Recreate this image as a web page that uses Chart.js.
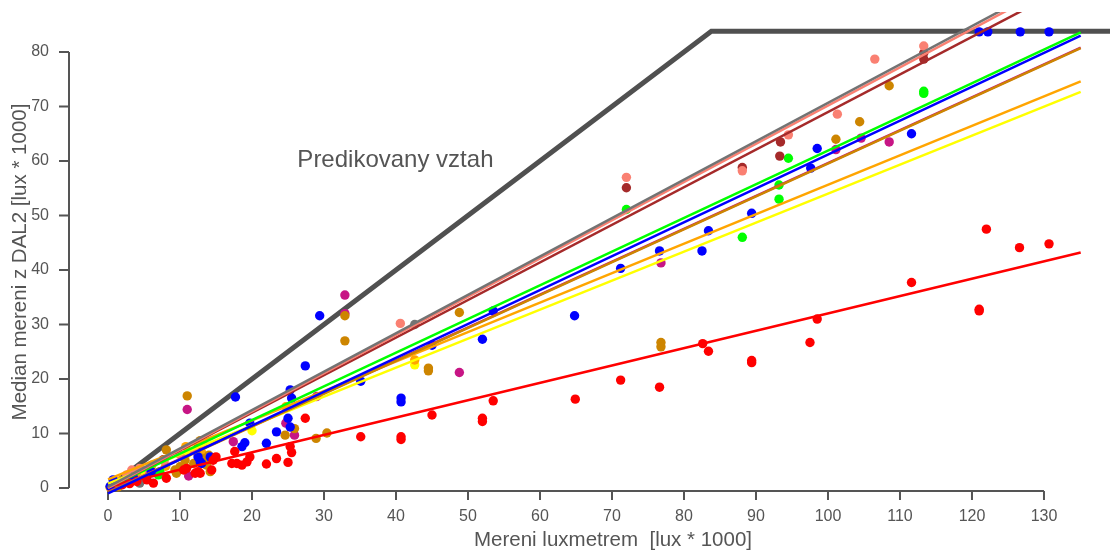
<!DOCTYPE html>
<html><head><meta charset="utf-8">
<script src="https://cdn.jsdelivr.net/npm/chart.js@4/dist/chart.umd.min.js"></script>
<style>html,body{margin:0;padding:0;background:#fff}#wrap{width:1110px;height:550px}</style>
</head><body><div id="wrap"><canvas id="c" width="1110" height="550"></canvas></div>
<script>
// ---- data ----
const xTicks = [0,10,20,30,40,50,60,70,80,90,100,110,120,130];
const yTicks = [0,10,20,30,40,50,60,70,80];
const xTitle = 'Mereni luxmetrem  [lux * 1000]';
const yTitle = 'Median mereni z DAL2 [lux * 1000]';
const noteText = 'Predikovany vztah';
const notePos = [26.3, 60.2];

const predX = [0, 83.8, 145];
const predY = [0, 83.8, 83.8];

const fitSeries = ['gray','salmon','brown','green','blue','peru','violet','orange','yellow','red'];
const fitX = [0, 135.1];
const fitStartY = [0.2, 0.0, 0.0, 0.1, -1.0, -0.8, -0.7, 1.6, 0.8, 0.2];
const fitEndY   = [95.4, 94.8, 93.2, 83.6, 83.0, 80.7, 80.8, 74.6, 72.7, 43.2];

const bluePts = [[121.0,83.7],[122.2,83.7],[126.7,83.7],[130.7,83.7],[111.6,65.0],[98.5,62.3],[97.6,58.7],
 [71.2,40.3],[76.6,43.5],[82.5,43.5],[83.4,47.2],[89.4,50.4],[29.4,31.6],[27.4,22.4],[35.1,19.6],[40.7,15.8],
 [40.7,16.5],[45.0,26.2],[52.0,27.3],[53.5,32.5],[64.8,31.6],[17.7,16.7],[25.3,18.0],[25.5,16.5],[19.7,11.9],
 [23.4,10.3],[22.0,8.2],[19.0,8.3],[18.6,7.6],[25.0,12.8],[25.3,11.2],[12.5,5.7],[13.0,4.5],[0.7,1.5],[12.8,4.8],
 [14.2,5.7],[2.0,1.2],[0.3,0.3],[3.5,2.0],[6.0,3.0]];
const redPts = [[82.6,26.5],[83.4,25.1],[89.4,23.0],[89.4,23.4],[97.5,26.7],[98.5,31.0],[111.6,37.7],[121.0,32.5],
 [121.0,32.8],[122.0,47.5],[126.6,44.1],[130.7,44.8],[71.2,19.8],[76.6,18.5],[64.9,16.3],[53.5,16.0],[52.0,12.8],
 [52.0,12.2],[45.0,13.4],[40.7,9.4],[40.7,8.9],[35.1,9.4],[27.4,12.8],[25.3,7.6],[25.5,6.5],[25.0,4.7],[23.4,5.4],
 [22.0,4.4],[19.7,5.7],[19.3,4.8],[18.6,4.2],[17.9,4.5],[17.6,6.7],[17.2,4.5],[15.0,5.7],[14.4,3.3],[12.8,2.7],
 [12.1,2.7],[10.9,3.6],[10.5,3.3],[8.1,1.8],[5.4,1.5],[12.5,3.0],[14.6,5.1],[6.3,0.9],[4.0,1.2],[2.0,0.6],[3.0,0.8]];
const greenPts = [[72.0,51.1],[88.1,46.0],[93.2,55.6],[93.2,53.0],[94.5,60.5],[113.3,72.4],[113.3,72.8],
 [7.2,3.0],[7.0,2.4],[0.5,0.4],[1.0,0.8],[3.0,2.0]];
const peruPts = [[108.5,73.8],[104.4,67.2],[101.1,64.0],[48.8,32.2],[32.9,31.6],[32.9,27.0],[44.5,22.0],[44.5,21.5],
 [76.8,26.7],[76.8,25.9],[28.9,9.1],[30.4,10.1],[11.0,16.9],[24.6,9.7],[25.9,10.9],[8.1,7.0],[9.3,3.3],[10.0,3.9],
 [10.7,5.1],[11.9,4.5],[9.5,2.7],[13.2,5.4],[13.7,4.2],[14.2,3.0],[1.4,0.2],[12.8,8.7],[14.0,6.0]];
const orangePts = [[0.3,0.1],[1.7,1.3],[6.1,4.2],[10.8,7.6],[24.7,14.9],[42.6,23.5],[13.0,6.5],[8.0,4.0],[4.0,2.8]];
const yellowPts = [[42.6,22.6],[0.5,0.5],[11.0,6.3],[5.0,3.0],[20.0,10.5]];
const violetPts = [[32.9,35.4],[32.9,32.0],[48.8,21.2],[29.0,16.8],[11.0,14.4],[24.7,11.9],[25.9,9.7],[11.2,2.2],
 [17.4,8.5],[76.8,41.3],[101.1,62.1],[104.6,64.2],[108.5,63.5]];
const salmonPts = [[113.3,81.1],[106.5,78.7],[101.3,68.6],[94.5,64.8],[72.0,57.0],[88.1,58.2],[40.6,30.2],[3.3,3.3],
 [4.4,3.6],[5.8,3.0],[10.0,6.1],[13.2,8.2],[2.6,2.4],[7.8,5.0],[12.0,6.8]];
const brownPts = [[113.3,79.8],[113.3,78.7],[93.4,63.5],[93.3,60.9],[72.0,55.1],[88.1,58.8],[7.7,5.2],[12.5,7.4],[3.0,2.3]];
const grayPts = [[42.6,30.0],[4.4,0.9],[1.5,1.0],[0.3,0.2]];

// ---- styles ----
const colorOf = {gray:'#737373', salmon:'#fa8072', brown:'#a52a2a', green:'#00ff00', blue:'#0000ff',
  violet:'#c71585', peru:'#cd8500', orange:'#ffa500', yellow:'#ffff00', red:'#ff0000'};
const pointGroups = [['red',redPts],['blue',bluePts],['peru',peruPts],['violet',violetPts],['salmon',salmonPts],
  ['brown',brownPts],['green',greenPts],['orange',orangePts],['yellow',yellowPts],['gray',grayPts]];

const AX = '#555555';
const FONT = '"Liberation Sans", Arial, sans-serif';

const datasets = [];
fitSeries.forEach((name, i) => {
  datasets.push({type:'line', data: fitX.map((x,k)=>({x, y: k===0 ? fitStartY[i] : fitEndY[i]})),
    borderColor: colorOf[name], borderWidth: 2.5, pointRadius: 0, fill:false, order: 10 + i,
    clip: {left: 5, top: 0, right: 0, bottom: 10}});
});
pointGroups.forEach(([name, pts], i) => {
  datasets.push({type:'scatter', data: pts.map(p=>({x:p[0], y:p[1]})), backgroundColor: colorOf[name],
    borderWidth: 0, pointRadius: 4.7, pointHoverRadius: 4.7, order: 50 + i, clip: false});
});
datasets.push({type:'line', data: predX.map((x,k)=>({x, y: predY[k]})), borderColor:'#505050', borderWidth: 5,
  pointRadius: 0, fill:false, order: 200, clip: {left:5, top:0, right:0, bottom:10}});

const axesPlugin = {
  id: 'rAxes',
  beforeDatasetsDraw(chart) {
    const ctx = chart.ctx, xs = chart.scales.x, ys = chart.scales.y, ca = chart.chartArea;
    ctx.save();
    ctx.strokeStyle = AX; ctx.fillStyle = AX; ctx.lineWidth = 2;
    const by = ca.bottom, lx = ca.left;
    ctx.beginPath();
    ctx.moveTo(xs.getPixelForValue(xTicks[0]), by); ctx.lineTo(xs.getPixelForValue(xTicks[xTicks.length-1]), by);
    xTicks.forEach(t => { const p = xs.getPixelForValue(t); ctx.moveTo(p, by); ctx.lineTo(p, by + 9); });
    ctx.stroke();
    ctx.beginPath();
    ctx.moveTo(lx, ys.getPixelForValue(yTicks[0])); ctx.lineTo(lx, ys.getPixelForValue(yTicks[yTicks.length-1]));
    yTicks.forEach(t => { const p = ys.getPixelForValue(t); ctx.moveTo(lx - 10, p); ctx.lineTo(lx, p); });
    ctx.stroke();
    ctx.font = '16px ' + FONT;
    ctx.textAlign = 'center'; ctx.textBaseline = 'middle';
    xTicks.forEach(t => ctx.fillText(String(t), xs.getPixelForValue(t), by + 26));
    ctx.textAlign = 'right';
    yTicks.forEach(t => ctx.fillText(String(t), lx - 20, ys.getPixelForValue(t)));
    ctx.font = '20.5px ' + FONT;
    ctx.textAlign = 'center';
    ctx.fillText(xTitle, 613, 540);
    ctx.save(); ctx.translate(20, 262); ctx.rotate(-Math.PI/2); ctx.fillText(yTitle, 0, 0); ctx.restore();
    ctx.font = '24px ' + FONT; ctx.textAlign = 'left';
    ctx.fillText(noteText, xs.getPixelForValue(notePos[0]), ys.getPixelForValue(notePos[1]));
    ctx.restore();
  }
};

new Chart(document.getElementById('c'), {
  data: { datasets },
  options: {
    responsive: false, animation: false, devicePixelRatio: 1,
    layout: { autoPadding: false, padding: { left: 69, right: 0, top: 12, bottom: 59 } },
    plugins: { legend: { display: false }, tooltip: { enabled: false } },
    events: [],
    scales: {
      x: { type: 'linear', min: -5.42, max: 139.17, display: false },
      y: { type: 'linear', min: -0.55, max: 87.34, display: false }
    }
  },
  plugins: [axesPlugin]
});
</script>
</body></html>
